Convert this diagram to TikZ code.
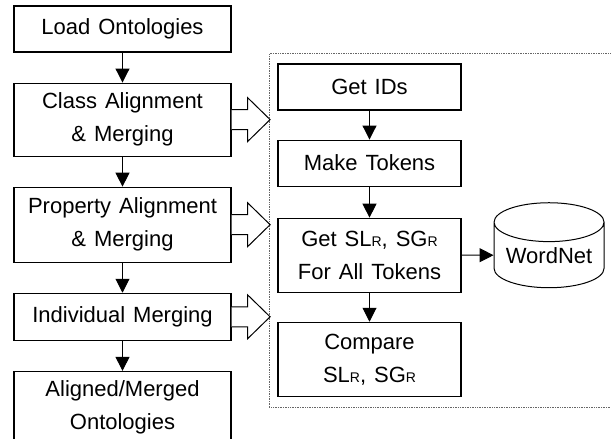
\documentclass[tikz,border=0pt]{standalone}
\usepackage{fontspec}
\setmainfont[WordSpace=1.3]{Liberation Sans}
\usetikzlibrary{arrows.meta,calc,positioning,shapes.geometric,fit}
\tikzset{
    stepbox/.style={
        draw, rectangle, line width=1.1pt,
        align=center, inner sep=2pt, text=black,
        font=\fontsize{22}{33}\selectfont
    },
    leftbox/.style={stepbox, minimum width=217pt},
    rightbox/.style={stepbox, minimum width=183pt}
}
\newcommand{\subR}{{\fontsize{14}{14}\selectfont R}}
\newcommand{\blockarrow}[2]{%
  \draw[line width=1pt, fill=white] let \p1 = (#1.east), \p2 = (#2.west) in
    (\x1,\y1+10pt) -- (\x1+16pt,\y1+10pt) -- (\x1+16pt,\y1+22pt) -- (\x2+1pt,\y1)
    -- (\x1+16pt,\y1-22pt) -- (\x1+16pt,\y1-10pt) -- (\x1,\y1-10pt);
}

\begin{document}
\begin{tikzpicture}[
        x=1pt, y=-1pt,
        flow/.style={-{Triangle[width=14pt,length=14pt]}, line width=1pt},
        panel/.style={draw=black!60, densely dotted, line width=0.7pt,
            inner xsep=8pt, inner ysep=10pt}
      ]
  \useasboundingbox (0,0) rectangle (611,439);

  % main steps
  \node[leftbox, minimum height=46pt] (load) at (122.5,29) {Load Ontologies};
  \node[leftbox, minimum height=73pt, below=30pt of load] (class) {Class Alignment\\\& Merging};
  \node[leftbox, minimum height=75pt, below=30pt of class] (prop) {Property Alignment\\\& Merging};
  \node[leftbox, minimum height=47pt, below=30pt of prop] (indiv) {Individual Merging};
  \node[leftbox, minimum height=71pt, below=30pt of indiv] (merged) {Aligned/Merged\\Ontologies};

  % alignment steps
  \node[rightbox, minimum height=46pt] (getid) at (369.5,87) {Get IDs};
  \node[rightbox, minimum height=46pt, below=29pt of getid] (tokens) {Make Tokens};
  \node[rightbox, minimum height=74pt, below=31pt of tokens] (getsl) {Get SL\subR, SG\subR\\For All Tokens};
  \node[rightbox, minimum height=74pt, below=29pt of getsl] (compare) {Compare\\SL\subR, SG\subR};

  \node[cylinder, shape border rotate=90, draw, line width=1pt, aspect=0.45,
        inner sep=0pt, minimum width=110pt, minimum height=85pt,
        font=\fontsize{22}{33}\selectfont,
        right=32pt of getsl] (wordnet) {WordNet};

  \node[panel, fit=(getid)(compare)(wordnet)] (tools) {};

  \draw[flow] (load) -- (class);
  \draw[flow] (class) -- (prop);
  \draw[flow] (prop) -- (indiv);
  \draw[flow] (indiv) -- (merged);

  \draw[flow] (getid) -- (tokens);
  \draw[flow] (tokens) -- (getsl);
  \draw[flow] (getsl) -- (compare);
  \draw[flow] (getsl) -- (wordnet);

  \blockarrow{class}{tools}
  \blockarrow{prop}{tools}
  \blockarrow{indiv}{tools}

\end{tikzpicture}
\end{document}
